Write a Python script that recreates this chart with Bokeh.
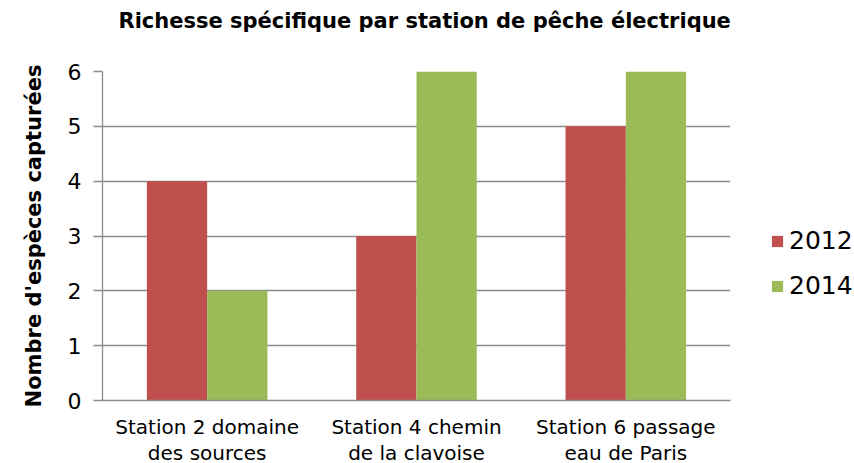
from bokeh.plotting import figure
from bokeh.models import FactorRange, Range1d, Legend, LegendItem, ColumnDataSource, FixedTicker, Title
from bokeh.transform import dodge
from bokeh.embed import file_html
from bokeh.resources import INLINE

title_text = "Richesse spécifique par station de pêche électrique"
station_labels = ["Station 2 domaine\ndes sources", "Station 4 chemin\nde la clavoise", "Station 6 passage\neau de Paris"]
v2012 = [4, 3, 5]
v2014 = [2, 6, 6]
y_ticks = [0, 1, 2, 3, 4, 5, 6]

RED = "#C0504D"
GREEN = "#9BBB59"
GRID = "#8C8C8C"
FONT = "DejaVu Sans"

src = ColumnDataSource(dict(x=station_labels, a=v2012, b=v2014))

p = figure(x_range=FactorRange(*station_labels, range_padding=0), y_range=Range1d(0, 6),
           frame_width=628, frame_height=329, output_backend="svg", toolbar_location=None,
           min_border_left=102, min_border_right=10, min_border_top=71, min_border_bottom=63)
p.outline_line_color = None

# spacer (closest to the frame) then the real title above it
p.add_layout(Title(text=" ", text_font=FONT, text_font_size="21px", standoff=13), "above")
p.add_layout(Title(text=title_text, align="left", offset=16, standoff=0,
                   text_font=FONT, text_font_style="bold", text_font_size="21px",
                   text_color="#000000"), "above")

r1 = p.vbar(x=dodge("x", -0.144, range=p.x_range), top="a", width=0.288, source=src,
            fill_color=RED, line_color=None)
r2 = p.vbar(x=dodge("x", 0.144, range=p.x_range), top="b", width=0.288, source=src,
            fill_color=GREEN, line_color=None)

p.xgrid.grid_line_color = None
p.ygrid.grid_line_color = GRID
p.ygrid.grid_line_width = 1.3
p.yaxis.ticker = FixedTicker(ticks=y_ticks)
p.yaxis.axis_line_color = GRID
p.yaxis.axis_line_width = 1.3
p.yaxis.major_tick_line_color = GRID
p.yaxis.major_tick_line_width = 1.3
p.yaxis.major_tick_out = 9
p.yaxis.major_tick_in = 0
p.yaxis.minor_tick_line_color = None
p.yaxis.major_label_text_font = FONT
p.yaxis.major_label_text_font_size = "22px"
p.yaxis.major_label_text_color = "#000000"
p.yaxis.major_label_standoff = 12
p.yaxis.axis_label = "Nombre d'espèces capturées"
p.yaxis.axis_label_text_font = FONT
p.yaxis.axis_label_text_font_style = "bold"
p.yaxis.axis_label_text_font_size = "21px"
p.yaxis.axis_label_text_color = "#000000"
p.yaxis.axis_label_standoff = 19

p.xaxis.axis_line_color = GRID
p.xaxis.axis_line_width = 1.3
p.xaxis.major_tick_line_color = None
p.xaxis.minor_tick_line_color = None
p.xaxis.major_label_text_font = FONT
p.xaxis.major_label_text_font_size = "20px"
p.xaxis.major_label_text_color = "#000000"
p.xaxis.major_label_standoff = 8
p.xaxis.major_label_text_line_height = 1.1

legend = Legend(items=[LegendItem(label="2012", renderers=[r1]),
                       LegendItem(label="2014", renderers=[r2])],
                location=(40, 100), orientation="vertical",
                label_text_font=FONT, label_text_font_size="25px",
                label_text_color="#000000", glyph_width=14, glyph_height=14,
                spacing=16, label_standoff=5, background_fill_alpha=0,
                border_line_color=None, padding=0, margin=0)
p.add_layout(legend, "right")

open("out.html", "w").write(file_html(p, INLINE))
